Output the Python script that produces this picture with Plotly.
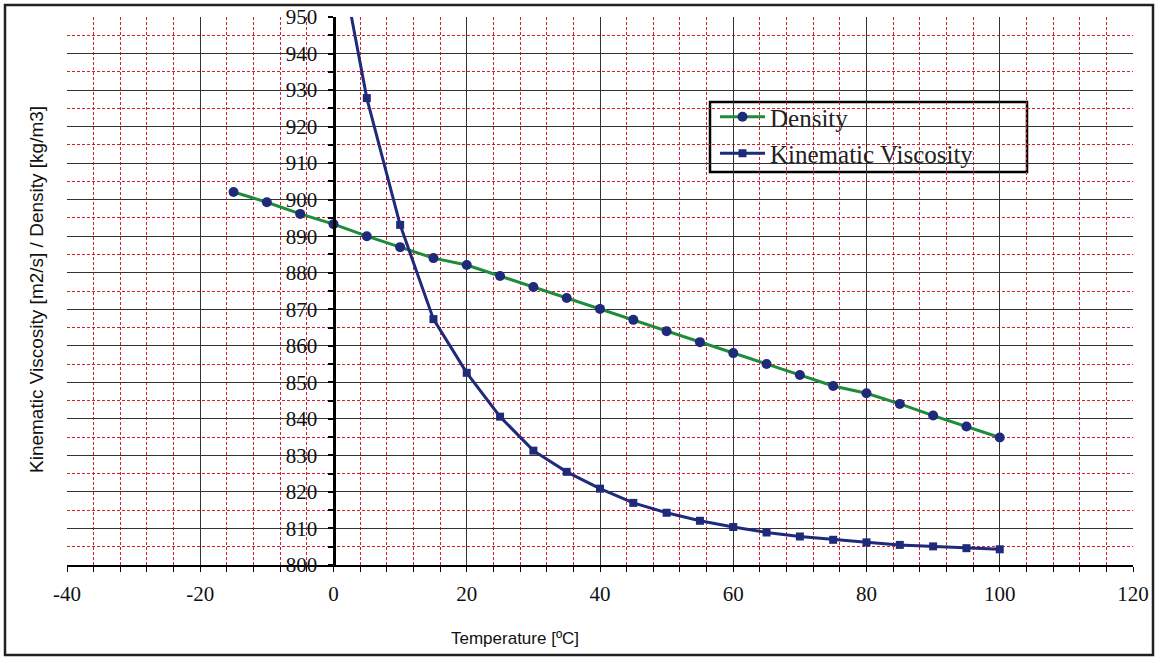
import plotly.graph_objects as go

temp_density = [-15, -10, -5, 0, 5, 10, 15, 20, 25, 30, 35, 40, 45, 50, 55, 60, 65, 70, 75, 80, 85, 90, 95, 100]
density = [902.1, 899.3, 896.1, 893.3, 890.0, 887.0, 884.0, 882.1, 879.1, 876.1, 873.1, 870.1, 867.1, 864.0,
           861.0, 858.0, 855.0, 852.0, 849.0, 847.0, 844.1, 840.9, 837.9, 834.9]

temp_visc = [0, 5, 10, 15, 20, 25, 30, 35, 40, 45, 50, 55, 60, 65, 70, 75, 80, 85, 90, 95, 100]
viscosity = [976.0, 927.8, 893.1, 867.3, 852.6, 840.6, 831.3, 825.5, 820.9, 817.0, 814.3, 812.1, 810.4,
             808.9, 807.8, 806.9, 806.2, 805.5, 805.1, 804.6, 804.3]

x_ticks = [-40, -20, 0, 20, 40, 60, 80, 100, 120]
y_ticks = [800, 810, 820, 830, 840, 850, 860, 870, 880, 890, 900, 910, 920, 930, 940, 950]

NAVY = "#1f2a7a"
GREEN = "#1e8c3a"
RED = "#d4202e"
SERIF = "Liberation Serif, Times New Roman, serif"
SANS = "Liberation Sans, Arial, sans-serif"

L, R, T, B = 67, 1133, 17, 565
PW, PH = R - L, B - T


def px(x):
    return (x - L) / PW


def py(y):
    return (B - y) / PH


fig = go.Figure()
fig.add_trace(go.Scatter(
    x=temp_density, y=density, name="Density", mode="lines+markers",
    line=dict(color=GREEN, width=3),
    marker=dict(symbol="circle", size=10, color=NAVY),
    legendgroup="a",
))
fig.add_trace(go.Scatter(
    x=temp_visc, y=viscosity, name="Kinematic Viscosity", mode="lines+markers",
    line=dict(color=NAVY, width=3),
    marker=dict(symbol="square", size=8, color=NAVY),
    legendgroup="b",
))

fig.update_layout(
    width=1158, height=659,
    margin=dict(l=L, r=1158 - R, t=T, b=659 - B, autoexpand=False),
    paper_bgcolor="white", plot_bgcolor="white",
    showlegend=True,
    legend=dict(
        x=px(715), y=py(94), xanchor="left", yanchor="top",
        borderwidth=0, bgcolor="rgba(0,0,0,0)",
        font=dict(family=SERIF, size=25, color="#222"),
        itemwidth=45, traceorder="grouped", tracegroupgap=1,
    ),
    xaxis=dict(
        range=[-40, 120], tickvals=x_ticks, ticktext=[str(v) for v in x_ticks],
        showgrid=True, gridcolor="#333", gridwidth=1,
        minor=dict(dtick=4, tick0=0, showgrid=True, gridcolor=RED, griddash="3px,2px", gridwidth=1,
                   ticks="outside", ticklen=5, tickcolor="black"),
        showline=True, linecolor="black", linewidth=1.5,
        ticks="outside", ticklen=5, tickcolor="black",
        tickfont=dict(family=SERIF, size=21, color="#111"),
        ticklabelstandoff=4,
        zeroline=False,
        automargin=False,
        domain=[0, 1],
    ),
    yaxis=dict(
        range=[800, 950], tickvals=y_ticks, ticktext=[str(v) for v in y_ticks],
        showgrid=True, gridcolor="#333", gridwidth=1,
        minor=dict(dtick=5, tick0=0, showgrid=True, gridcolor=RED, griddash="3px,2px", gridwidth=1,
                   ticks="outside", ticklen=5, tickcolor="black"),
        anchor="free", position=0.25,
        showline=True, linecolor="black", linewidth=3,
        ticks="outside", ticklen=5, tickcolor="black", tickwidth=2,
        tickfont=dict(family=SERIF, size=21, color="#111"),
        ticklabelstandoff=6,
        zeroline=False,
        automargin=False,
    ),
    annotations=[
        dict(text="Temperature [ºC]", xref="paper", yref="paper",
             x=px(515), y=py(638), xanchor="center", yanchor="middle",
             showarrow=False, font=dict(family=SANS, size=17, color="#111")),
        dict(text="Kinematic Viscosity [m2/s] / Density [kg/m3]", xref="paper", yref="paper",
             x=px(36), y=py(290), xanchor="center", yanchor="middle",
             textangle=-90, showarrow=False, font=dict(family=SANS, size=19, color="#111")),
    ],
    shapes=[
        dict(type="rect", xref="paper", yref="paper",
             x0=px(5), x1=px(1153), y0=py(655), y1=py(5),
             line=dict(color="#222", width=2.5), layer="below"),
        dict(type="rect", xref="paper", yref="paper",
             x0=px(710), x1=px(1027), y0=py(172), y1=py(102),
             fillcolor="white", line=dict(color="black", width=2.5), layer="between"),
    ],
)

fig.write_html(
    "out.html",
    config={"displayModeBar": False},
    post_script="document.body.style.margin='0px';document.body.style.overflow='hidden';",
)
